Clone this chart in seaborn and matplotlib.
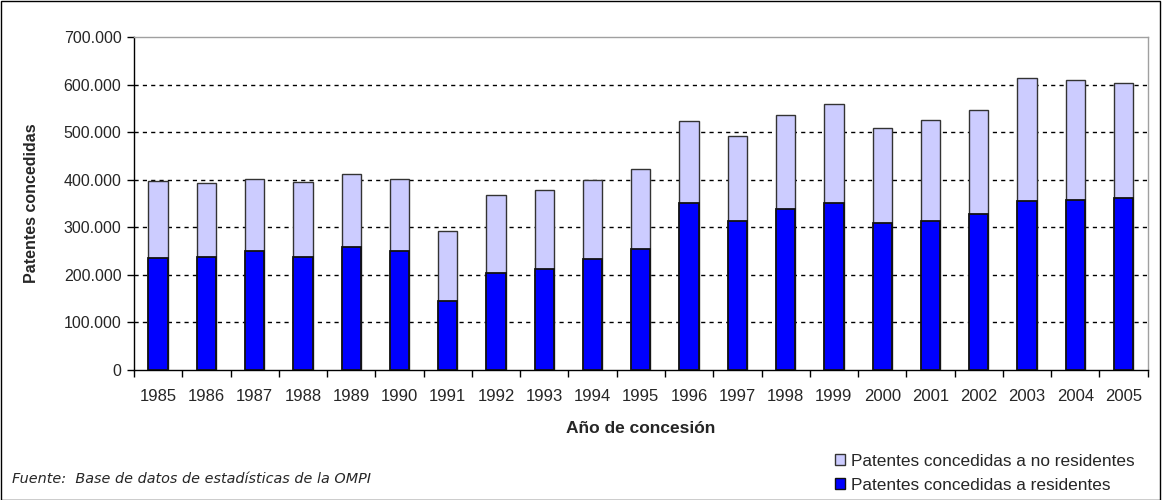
import seaborn as sns
import matplotlib.pyplot as plt
import matplotlib.ticker as mticker
from matplotlib.patches import Patch, Rectangle
import pandas as pd

# Values (patents granted)
years = [str(y) for y in range(1985, 2006)]
residentes = [235000, 237500, 249500, 237500, 259000, 249500, 144500, 204000,
              213000, 232500, 255000, 350500, 314000, 339000, 350500, 308000,
              314000, 328500, 356000, 358000, 361500]
totales = [398000, 393000, 401500, 396000, 412500, 401500, 291500, 368500,
           379000, 398500, 422000, 524000, 492000, 537000, 560000, 508500,
           526000, 546000, 613000, 610000, 603000]
no_residentes = [t - r for t, r in zip(totales, residentes)]

data = pd.DataFrame({
    'Año': years,
    'Residentes': residentes,
    'No residentes': no_residentes,
})
data['Total'] = data['Residentes'] + data['No residentes']

sns.set_style('white')
plt.rcParams['font.family'] = ['Liberation Sans', 'DejaVu Sans']

fig = plt.figure(figsize=(11.62, 5.0), dpi=100)
ax = fig.add_axes([0.1153, 0.26, 0.8724, 0.666])

# stacked bars: total first (light), residents on top of it (blue)
sns.barplot(data=data, x='Año', y='Total', color='#CCCCFF', width=0.4,
            edgecolor='#333333', linewidth=1, saturation=1, ax=ax, zorder=3)
sns.barplot(data=data, x='Año', y='Residentes', color='#0000FF', width=0.4,
            edgecolor='#111111', linewidth=1.3, saturation=1, ax=ax, zorder=4)

ax.set_xlim(-0.5, len(years) - 0.5)
ax.set_ylim(0, 700000)
ax.yaxis.set_major_locator(mticker.MultipleLocator(100000))
ax.yaxis.set_major_formatter(mticker.FuncFormatter(
    lambda v, p: f'{int(v):,}'.replace(',', '.')))

# dashed grid lines
for v in range(100000, 700000, 100000):
    ax.axhline(v, color='black', linestyle=(0, (3, 3)), linewidth=1, zorder=1)

# ticks between categories
ax.set_xticks([i - 0.5 for i in range(len(years) + 1)], minor=True)
ax.tick_params(axis='x', which='major', length=0, pad=14, labelsize=12)
ax.tick_params(axis='x', which='minor', length=5, width=1, direction='out',
               color='black', bottom=True)
ax.tick_params(axis='y', length=5, width=1, direction='out', color='black',
               left=True, labelsize=11.5, pad=4)

for side in ['left', 'bottom']:
    ax.spines[side].set_color('black')
    ax.spines[side].set_linewidth(1)
for side in ['top', 'right']:
    ax.spines[side].set_visible(True)
    ax.spines[side].set_color('#A0A0A0')
    ax.spines[side].set_linewidth(1)

ax.set_xlabel('Año de concesión', fontsize=12.5, fontweight='bold', labelpad=12)
ax.set_ylabel('Patentes concedidas', fontsize=11.5, fontweight='bold', labelpad=18)

handles = [Patch(facecolor='#CCCCFF', edgecolor='#333333', label='Patentes concedidas a no residentes'),
           Patch(facecolor='#0000FF', edgecolor='#111111', label='Patentes concedidas a residentes')]
fig.legend(handles=handles, loc='upper left', bbox_to_anchor=(0.7186, 0.093),
           frameon=False, fontsize=12.4, handlelength=0.6, handleheight=0.6,
           handletextpad=0.3, labelspacing=0.55, borderaxespad=0, borderpad=0)

fig.text(0.010, 0.042, 'Fuente:  Base de datos de estadísticas de la OMPI',
         fontsize=10.4, style='italic', family=['DejaVu Sans'], va='center')

# outer frame around the whole chart
fig.patches.append(Rectangle((0.0005, 0.001), 0.998, 0.997, transform=fig.transFigure,
                             fill=False, edgecolor='black', linewidth=1))

fig.savefig('out.png', dpi=100)
